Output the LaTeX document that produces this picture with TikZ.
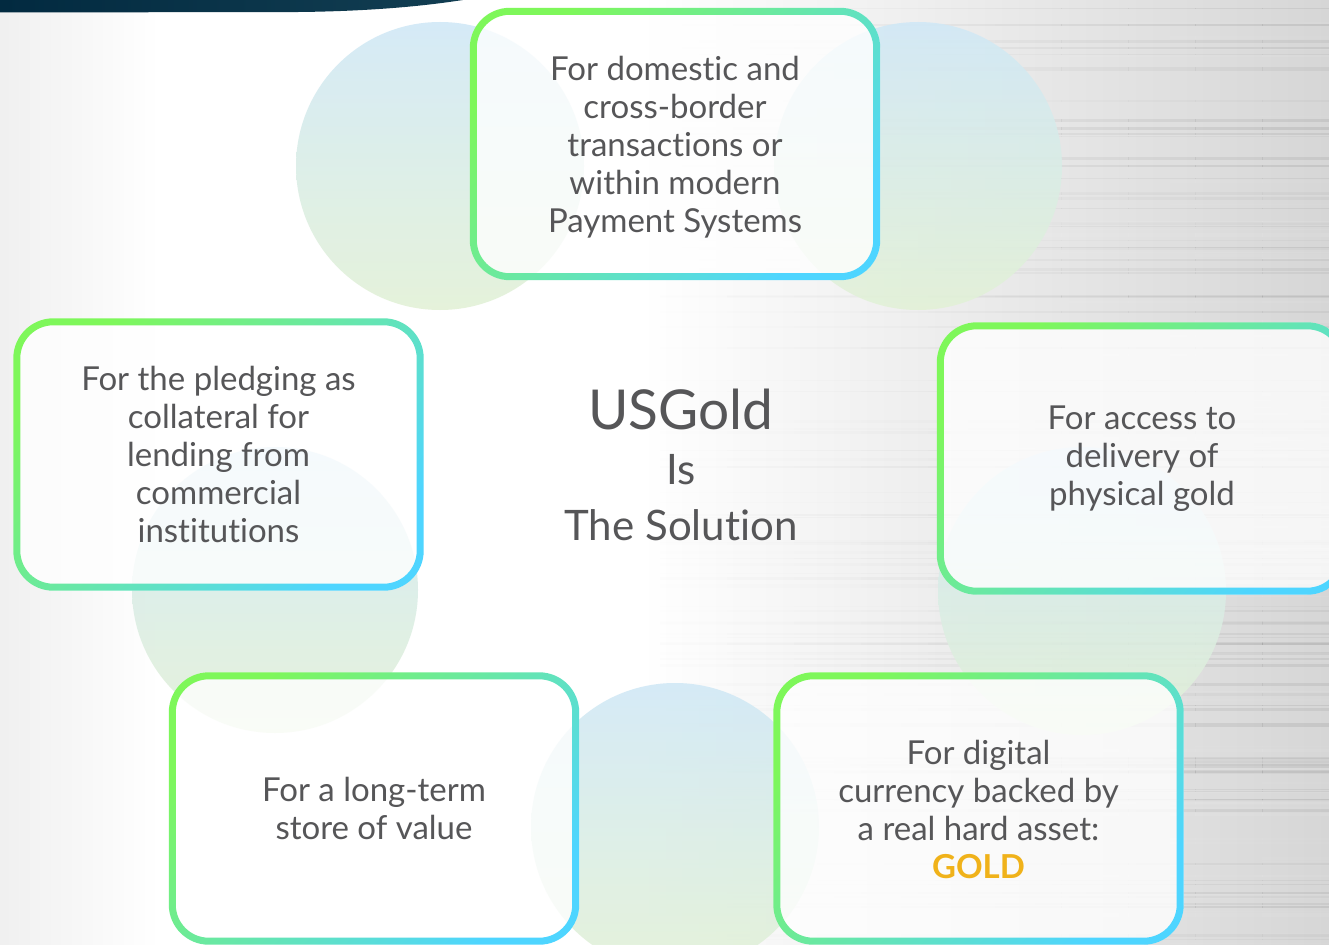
\documentclass[tikz,border=0pt]{standalone}
\usepackage{fontspec}
\setmainfont{Lato}[Ligatures=NoCommon]

\definecolor{txt}{RGB}{86,86,88}
\definecolor{goldtxt}{RGB}{240,178,26}
\definecolor{ringgreen}{RGB}{126,247,90}
\definecolor{ringcyan}{RGB}{78,213,255}
\definecolor{discblue}{RGB}{208,232,246}
\definecolor{discgreen}{RGB}{226,241,214}
\definecolor{bandleft}{RGB}{2,42,64}
\definecolor{bandright}{RGB}{18,62,82}
\definecolor{steel}{RGB}{214,214,214}

\tikzset{
  disc/.style={top color=discblue, bottom color=discgreen, opacity=0.88},
  card/.style={rectangle, rounded corners=40pt, fill=white, fill opacity=0.78,
    text opacity=1, minimum width=410pt, minimum height=272pt, inner sep=0pt,
    align=center, text=txt, font=\fontsize{33}{38}\selectfont},
  ringshade/.style={top color=ringgreen, bottom color=ringcyan, shading angle=45},
  headline/.style={anchor=base, text=txt, inner sep=0pt},
}

% gradient frame round a card node
\newcommand\cardframe[1]{%
  \shade[ringshade, even odd rule]
    (#1.north west) [rounded corners=40pt] rectangle (#1.south east)
    ([shift={(7,7)}]#1.north west) [rounded corners=33pt] rectangle ([shift={(-7,-7)}]#1.south east);}

\begin{document}
\begin{tikzpicture}[x=1pt, y=-1pt]
\useasboundingbox (0,0) rectangle (1329,944);

% brushed steel backdrop
\fill[white] (0,0) rectangle (1329,944);
\shade[left color=white, right color=steel] (640,0) rectangle (1329,944);
\shade[left color=black!6, right color=white] (0,0) rectangle (160,944);
\pgfmathsetseed{17}
\foreach \i in {1,...,160}{
  \pgfmathsetmacro\yy{rnd*944}
  \pgfmathsetmacro\hh{0.8+rnd*2.6}
  \pgfmathsetmacro\oo{0.002+rnd*0.006}
  \pgfmathsetmacro\tone{rnd<0.5 ? "white" : "black"}
  \foreach \k in {1,...,10}{
    \fill[\tone, opacity=\oo*\k] (660+\k*66.9-66.9,\yy) rectangle (660+\k*66.9+0.5,\yy+\hh);
  }
}

% dark band along the top edge
\shade[left color=bandleft, right color=bandright]
  (0,0) -- (463,0) .. controls (430,5) and (380,11) .. (300,12) -- (0,12.5) -- cycle;

% soft discs behind the cards
\shade[disc] (440,166) circle (144);
\shade[disc] (918,166) circle (144);
\shade[disc] (275,590) circle (143);
\shade[disc] (1082,591) circle (144);
\shade[disc] (675,827) circle (144);

% cards
\node[card] (pay) at (675,144) {\\[-8pt]For domestic and\\cross-border\\transactions or\\within modern\\Payment Systems};
\node[card] (pledge) at (218.5,454.5) {For the pledging as\\collateral for\\lending from\\commercial\\institutions};
\node[card] (deliv) at (1142,458.5) {For access to\\delivery of\\physical gold};
\node[card] (store) at (374,808.5) {For a long-term\\store of value};
\node[card] (digital) at (978.5,808.5) {\\[-12pt]For digital\\currency backed by\\a real hard asset:\\{\bfseries\color{goldtxt}GOLD}};

\cardframe{pay}
\cardframe{pledge}
\cardframe{deliv}
\cardframe{store}
\cardframe{digital}

% central statement
\node[headline, font=\fontsize{55}{60}\selectfont] (usgold) at (681,429) {USGold};
\node[headline, font=\fontsize{42}{50}\selectfont] (is) at (681,484) {Is};
\node[headline, font=\fontsize{42}{50}\selectfont] (sol) at (681,540) {The Solution};
\end{tikzpicture}
\end{document}
